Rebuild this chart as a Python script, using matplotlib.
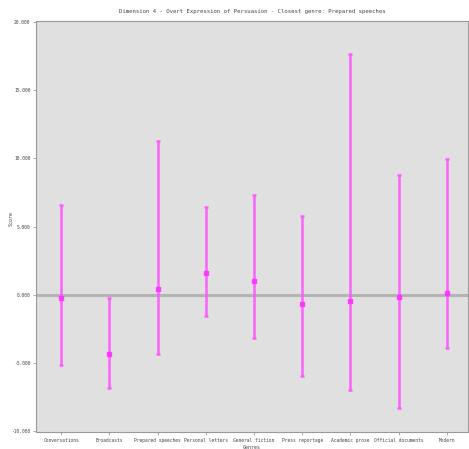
import matplotlib
matplotlib.use("Agg")
import matplotlib.pyplot as plt
import numpy as np

genres = ["Conversations", "Broadcasts", "Prepared speeches", "Personal letters",
          "General fiction", "Press reportage", "Academic prose",
          "Official documents", "Modern"]
means = [-0.29, -4.38, 0.43, 1.55, 0.96, -0.68, -0.48, -0.16, 0.13]
upper = [6.55, -0.24, 11.31, 6.43, 7.29, 5.77, 17.65, 8.76, 9.96]
lower = [-5.16, -6.88, -4.38, -1.54, -3.20, -5.99, -7.05, -8.35, -3.93]
yticks = [-10, -5, 0, 5, 10, 15, 20]
title = "Dimension 4 - Overt Expression of Persuasion - Closest genre: Prepared speeches"

plt.rcParams["font.family"] = ["DejaVu Sans Mono"]

W, H = 469, 449
fig = plt.figure(figsize=(W/100, H/100), dpi=100)
ax = fig.add_axes([36/W, 1-432/H, (468-36)/W, (432-21)/H])
ax.set_facecolor("#e0e0e0")

x = np.arange(len(genres))
m = np.array(means)
yerr = np.vstack([m - np.array(lower), np.array(upper) - m])
ax.axhline(0, color="#b4b4b4", lw=2.2, zorder=1)
ax.errorbar(x, m, yerr=yerr, fmt="s", color="#ff33ff", ecolor="#ff55ff",
            elinewidth=1.8, capsize=1.5, capthick=1.8, markersize=3, zorder=3,
            alpha=0.9)

ax.set_xlim(-0.52, 8.44)
ax.set_ylim(-10.1, 20.1)
ax.set_yticks(yticks)
ax.set_yticklabels([f"{v:.3f}" for v in yticks])
ax.set_xticks(x)
ax.set_xticklabels(genres)
ax.tick_params(axis="both", labelsize=3.3, length=2, width=0.5, color="#888888",
               labelcolor="#444444", pad=2)
for s in ax.spines.values():
    s.set_color("#999999")
    s.set_linewidth(0.8)

ax.set_title(title, fontsize=4.1, color="#444444", pad=6)
ax.set_xlabel("Genres", fontsize=3.6, color="#444444", labelpad=2)
ax.set_ylabel("Score", fontsize=3.6, color="#444444")
ax.yaxis.set_label_coords(-0.052, 0.52)

fig.savefig("out.png", dpi=100, facecolor="white")
